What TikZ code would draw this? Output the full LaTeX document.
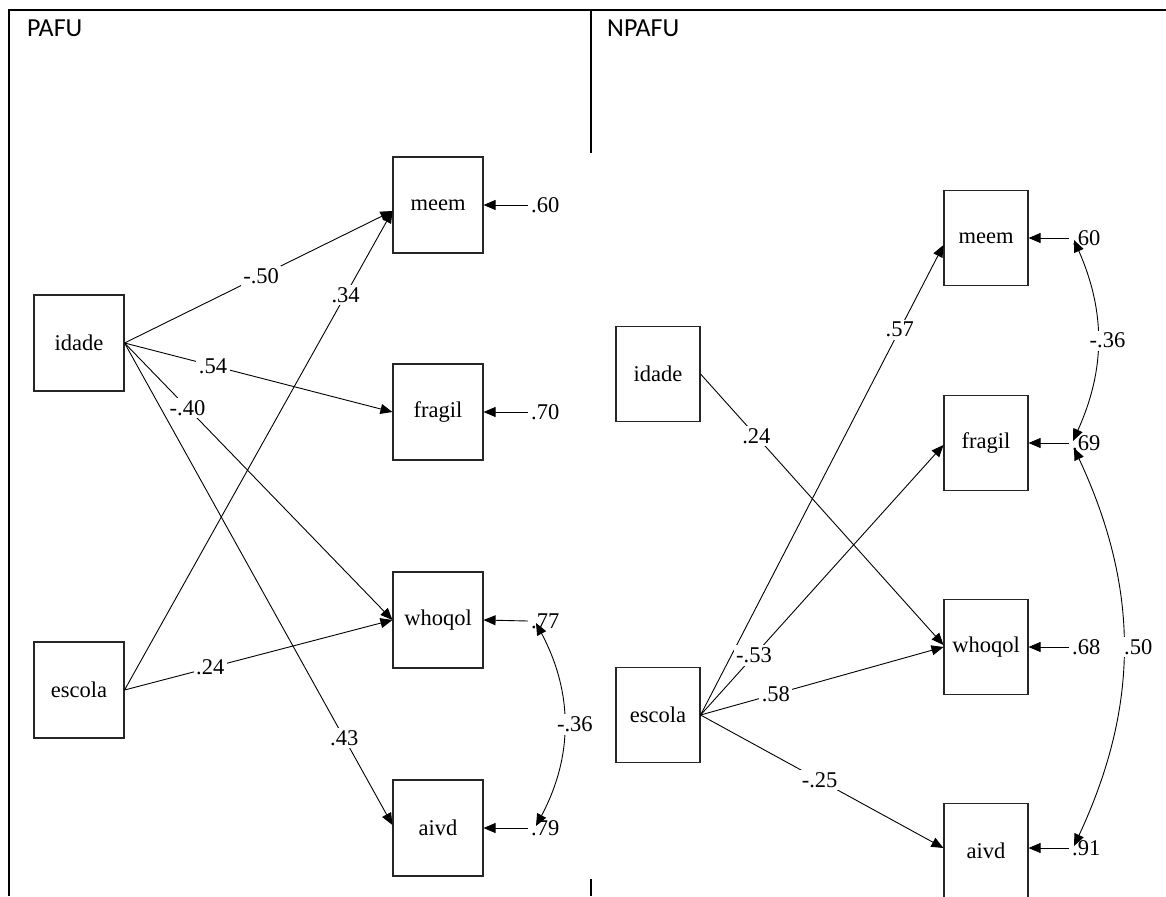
\documentclass[tikz,border=0pt]{standalone}
\usepackage{fontspec}
\setmainfont{Liberation Serif}
\newfontfamily\hdfont{Carlito}
\usetikzlibrary{arrows.meta}
\begin{document}
\begin{tikzpicture}[x=1pt,y=-1pt,
 box/.style={draw=black!85, line width=1.1pt, minimum width=90pt, minimum height=96pt, inner sep=0pt, font=\fontsize{22.5}{24}\selectfont},
 rbox/.style={box, minimum width=84pt, minimum height=95pt},
 arr/.style={line width=0.9pt, -{Triangle[length=12pt,width=10pt]}},
 lab/.style={fill=white, inner sep=2.5pt, font=\fontsize{22.5}{24}\selectfont},
 err/.style={anchor=west, inner sep=3pt, font=\fontsize{22.5}{24}\selectfont},
 cov/.style={line width=0.9pt, {Triangle[length=12pt,width=10pt]}-{Triangle[length=12pt,width=10pt]}},
 border/.style={line width=2.4pt},
 hd/.style={anchor=base west, inner sep=0pt, font=\hdfont\fontsize{26}{30}\selectfont}]
\useasboundingbox (0,0) rectangle (1166,896);
% frame
\coordinate (tl) at (9,10);
\coordinate (tr) at (1166,10);
\coordinate (bl) at (9,896);
\coordinate (dt) at (591,10);
\coordinate (db) at (591,153);
\coordinate (dt2) at (591,879);
\coordinate (db2) at (591,896);
\draw[border] (bl) -- (tl) -- (tr);
\draw[border] (dt) -- (db);
\draw[border] (dt2) -- (db2);
\node[hd] (h1) at (27,37) {PAFU};
\node[hd] (h2) at (607,37) {NPAFU};

% ---------- PAFU ----------
\node[box] (idade) at (79,343) {idade};
\node[box] (escola) at (79,690) {escola};
\node[box] (meem) at (438,205) {meem};
\node[box] (fragil) at (438,412) {fragil};
\node[box] (whoqol) at (438,620) {whoqol};
\node[box] (aivd) at (438,828) {aivd};

\node[err] (e1) at (528,205) {.60};
\node[err] (e2) at (528,412) {.70};
\node[err] (e3) at (528,621) {.77};
\node[err] (e4) at (528,828) {.79};
\draw[arr] (e1.west) -- (meem.east);
\draw[arr] (e2.west) -- (fragil.east);
\draw[arr] (e3.west) -- (whoqol.east);
\draw[arr] (e4.west) -- (aivd.east);

\draw[arr] (idade.east) -- node[lab,pos=0.51]{-.50} ([yshift=-6pt]meem.west);
\draw[arr] (escola.east) -- node[lab,pos=0.825]{.34} ([yshift=-6pt]meem.west);
\draw[arr] (idade.east) -- node[lab,pos=0.33]{.54} (fragil.west);
\draw[arr] (idade.east) -- node[lab,pos=0.235]{-.40} (whoqol.west);
\draw[arr] (idade.east) -- node[lab,pos=0.82]{.43} ([yshift=3pt]aivd.west);
\draw[arr] (escola.east) -- node[lab,pos=0.32]{.24} (whoqol.west);

\draw[cov] ([xshift=8pt,yshift=-2pt]e3.west) to[bend left=28] node[lab,midway,xshift=11pt]{-.36} ([xshift=8pt,yshift=2pt]e4.west);

% ---------- NPAFU ----------
\node[rbox] (idade2) at (658,374) {idade};
\node[rbox] (escola2) at (658,715) {escola};
\node[rbox] (meem2) at (986,238) {meem};
\node[rbox] (fragil2) at (986,443) {fragil};
\node[rbox] (whoqol2) at (986,647) {whoqol};
\node[rbox] (aivd2) at (986,851) {aivd};

\node[err] (f1) at (1069,238) {.60};
\node[err] (f2) at (1069,443) {.69};
\node[err] (f3) at (1069,647) {.68};
\node[err] (f4) at (1069,848) {.91};
\draw[arr] (f1.west) -- (meem2.east);
\draw[arr] (f2.west) -- (fragil2.east);
\draw[arr] (f3.west) -- (whoqol2.east);
\draw[arr] (f4.west) -- ([yshift=3pt]aivd2.east);

\draw[arr] (idade2.east) -- node[lab,pos=0.23]{.24} ([yshift=2pt]whoqol2.west);
\draw[arr] (escola2.east) -- node[lab,pos=0.82]{.57} ([yshift=-7pt]meem2.west);
\draw[arr] (escola2.east) -- node[lab,pos=0.22]{-.53} ([yshift=-2pt]fragil2.west);
\draw[arr] (escola2.east) -- node[lab,pos=0.31]{.58} (whoqol2.west);
\draw[arr] (escola2.east) -- node[lab,pos=0.49]{-.25} ([yshift=3pt]aivd2.west);

\draw[cov] ([xshift=5pt,yshift=-2pt]f1.west) to[bend left=24] node[lab,midway,xshift=10pt]{-.36} ([xshift=4pt,yshift=2pt]f2.west);
\draw[cov] ([xshift=5pt,yshift=-5pt]f2.west) to[bend left=25] node[lab,midway,xshift=15pt]{.50} ([xshift=5pt,yshift=2pt]f4.west);
\end{tikzpicture}
\end{document}
